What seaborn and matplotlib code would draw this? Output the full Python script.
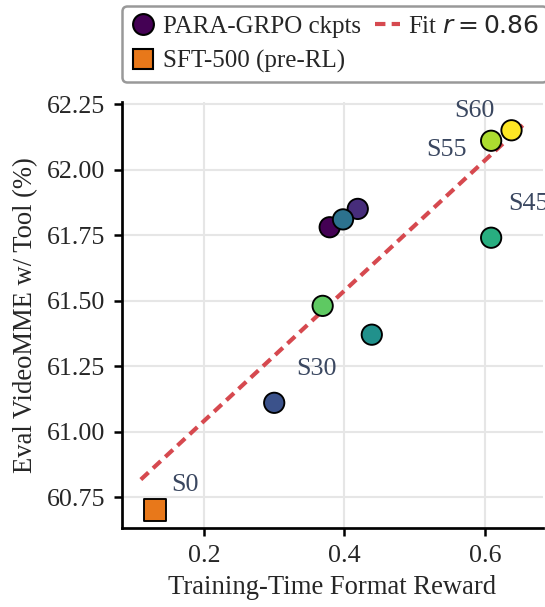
import numpy as np
import pandas as pd
import matplotlib
matplotlib.use("Agg")
import matplotlib.pyplot as plt
import seaborn as sns

# RL checkpoints (step, training-time format reward, eval accuracy)
steps = [20, 25, 30, 35, 40, 45, 50, 55, 60]
format_reward = [0.379, 0.419, 0.300, 0.398, 0.439, 0.609, 0.369, 0.609, 0.638]
eval_acc = [61.78, 61.85, 61.11, 61.81, 61.37, 61.74, 61.48, 62.11, 62.15]

# SFT starting point
sft_reward = [0.130]
sft_acc = [60.70]

labelled_steps = [30, 45, 55, 60]
label_offsets = {30: (0.031, 0.13), 45: (0.024, 0.13), 55: (-0.093, -0.035), 60: (-0.082, 0.075)}

sns.set_style("whitegrid")
plt.rcParams['font.family'] = ['Liberation Serif', 'DejaVu Serif']
plt.rcParams['mathtext.fontset'] = 'dejavusans'

df = pd.DataFrame({'step': steps, 'reward': format_reward, 'acc': eval_acc})

fig = plt.figure(figsize=(545 / 150, 607 / 150), dpi=150)
ax = fig.add_axes([0.224, 0.130, 0.772, 0.702])

# Linear fit over all points (RL + SFT)
all_x = np.array(format_reward + sft_reward)
all_y = np.array(eval_acc + sft_acc)
slope, intercept = np.polyfit(all_x, all_y, 1)
r = np.corrcoef(all_x, all_y)[0, 1]
xs = np.linspace(all_x.min() - 0.02, all_x.max() + 0.016, 50)
ax.plot(xs, slope * xs + intercept, ls='--', dashes=(2.5, 1.5), color='#d6494f', lw=2,
        label=f'Fit $r={r:.2f}$', zorder=2)

sns.scatterplot(data=df, x='reward', y='acc', hue='step', palette='viridis',
                hue_norm=(min(steps), max(steps)), s=95, edgecolor='black',
                linewidth=0.9, legend=False, ax=ax, zorder=3)
ax.scatter(sft_reward, sft_acc, marker='s', s=105, color='#e8781a',
           edgecolor='black', linewidth=0.9, zorder=3)

# Step annotations
for s, x, y in zip(steps, format_reward, eval_acc):
    if s in labelled_steps:
        dx, dy = label_offsets[s]
        ax.text(x + dx, y + dy, f'S{s}', fontsize=12.5, color='#3a4760',
                ha='left', va='center')
ax.text(sft_reward[0] + 0.023, sft_acc[0] + 0.095, 'S0', fontsize=12.5,
        color='#3a4760', ha='left', va='center')

ax.set_xlim(0.0833, 0.6826)
ax.set_ylim(60.632, 62.258)
ax.set_xticks([0.2, 0.4, 0.6])
yticks = [60.75, 61.00, 61.25, 61.50, 61.75, 62.00, 62.25]
ax.set_yticks(yticks)
ax.set_yticklabels([f'{v:.2f}' for v in yticks])
ax.tick_params(axis='both', labelsize=12.5, length=4, width=1.2, pad=4,
               direction='out', left=True, bottom=True, color='black')
ax.set_xlabel('Training-Time Format Reward', fontsize=12.8)
ax.set_ylabel('Eval VideoMME w/ Tool (%)', fontsize=12.8)
ax.grid(True, color='#e6e6e6', lw=1)
for side in ['top', 'right']:
    ax.spines[side].set_visible(False)
for side in ['left', 'bottom']:
    ax.spines[side].set_color('black')
    ax.spines[side].set_linewidth(1.3)

# Legend handles
h_rl = plt.Line2D([], [], marker='o', ls='', markersize=10,
                  markerfacecolor=plt.cm.viridis(0.0), markeredgecolor='black')
h_sft = plt.Line2D([], [], marker='s', ls='', markersize=10,
                   markerfacecolor='#e8781a', markeredgecolor='black')
h_fit = ax.get_lines()[0]
leg = ax.legend([h_rl, h_sft, h_fit], ['PARA-GRPO ckpts', 'SFT-500 (pre-RL)', h_fit.get_label()],
                ncol=2, loc='lower left', bbox_to_anchor=(0.0, 1.047), fontsize=12,
                frameon=True, fancybox=True, edgecolor='#999999', framealpha=1,
                handlelength=1.0, handletextpad=0.3, columnspacing=0.55,
                borderpad=0.35, labelspacing=0.5, borderaxespad=0)
leg.get_frame().set_linewidth(1.2)

fig.savefig('out.png', dpi=150)
